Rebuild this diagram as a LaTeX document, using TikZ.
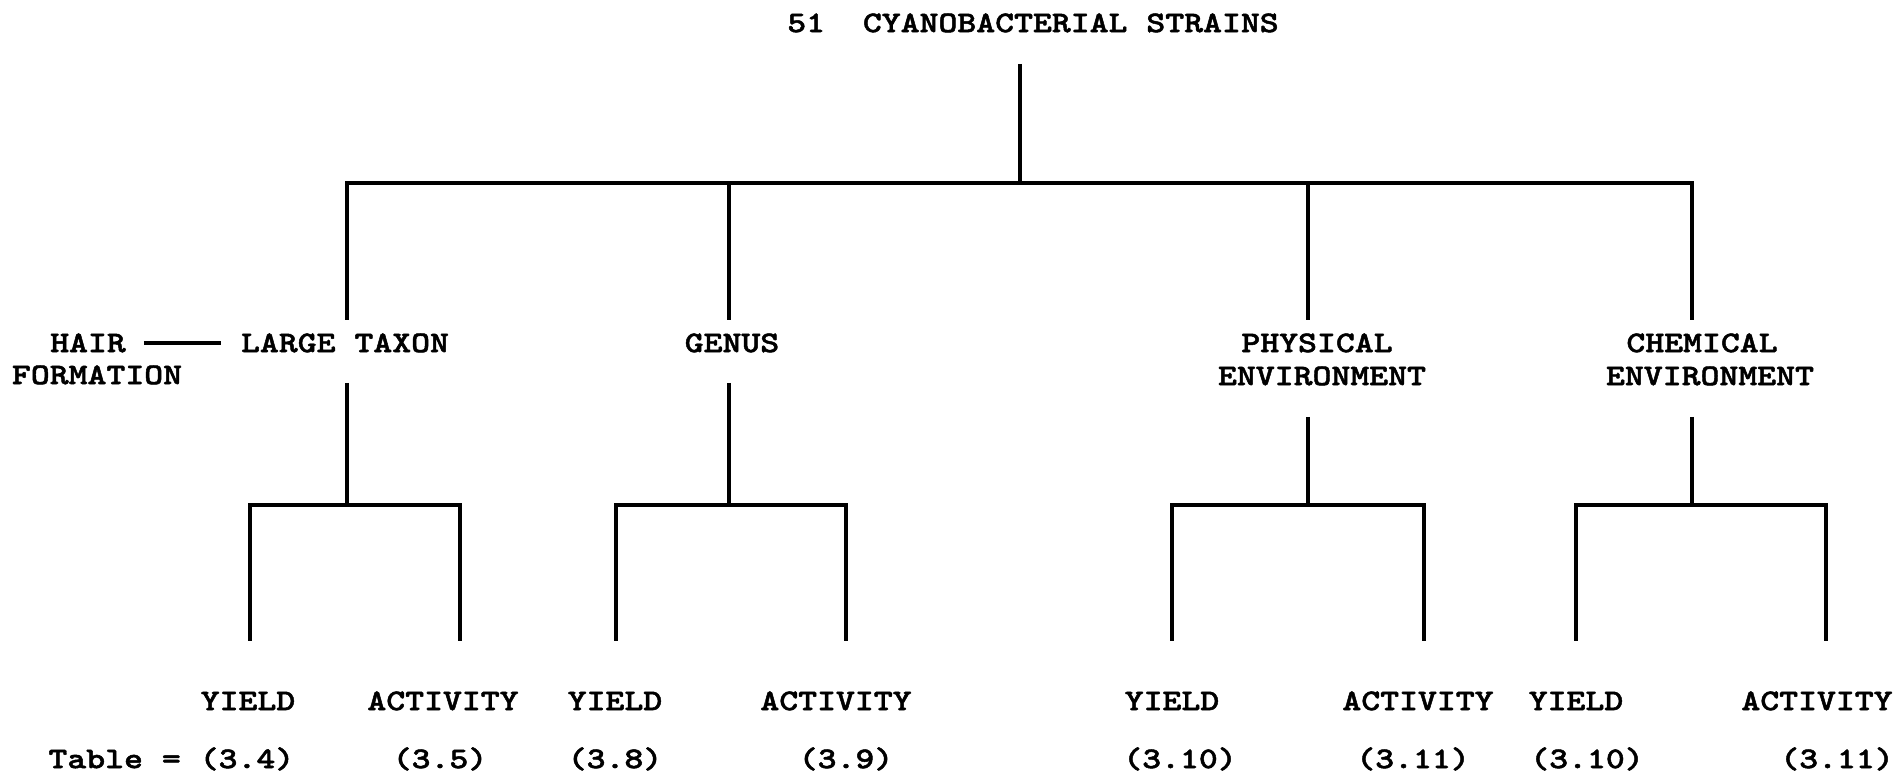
\documentclass[tikz,border=0pt]{standalone}
\usepackage{fontspec}
\newfontfamily\typefont[FakeStretch=1.2, FakeBold=1.6]{lmmonolt10-bold.otf}
\tikzset{
  lbl/.style={font=\typefont\fontsize{12}{14}\selectfont, inner sep=0pt, text height=7.3pt, text depth=0pt},
  tree/.style={line width=1.3pt}
}

\begin{document}
\begin{tikzpicture}[x=0.4pt, y=-0.4pt]
\useasboundingbox (0,0) rectangle (1895,778);
% labels
\node[lbl] (root) at (1033,23) {51~~CYANOBACTERIAL STRAINS};
\node[lbl] (hair) at (88,343) {HAIR};
\node[lbl] (formation) at (97,375) {FORMATION};
\node[lbl] (large) at (345,343) {LARGE TAXON};
\node[lbl] (genus) at (732,343) {GENUS};
\node[lbl] (phys) at (1317,343) {PHYSICAL};
\node[lbl] (physenv) at (1322,376) {ENVIRONMENT};
\node[lbl] (chem) at (1702,343) {CHEMICAL};
\node[lbl] (chemenv) at (1710,376) {ENVIRONMENT};
\node[lbl] (yield1) at (248,701) {YIELD};
\node[lbl] (act1) at (443,701) {ACTIVITY};
\node[lbl] (yield2) at (615,701) {YIELD};
\node[lbl] (act2) at (836,701) {ACTIVITY};
\node[lbl] (yield3) at (1172,701) {YIELD};
\node[lbl] (act3) at (1418,701) {ACTIVITY};
\node[lbl] (yield4) at (1576,701) {YIELD};
\node[lbl] (act4) at (1817,701) {ACTIVITY};
% table numbers
\node[lbl, anchor=west] (tab1) at (48,759) {Table = (3.4)};
\node[lbl] (tab2) at (440,759) {(3.5)};
\node[lbl] (tab3) at (615,759) {(3.8)};
\node[lbl] (tab4) at (846,759) {(3.9)};
\node[lbl] (tab5) at (1180,759) {(3.10)};
\node[lbl] (tab6) at (1413,759) {(3.11)};
\node[lbl] (tab7) at (1587,759) {(3.10)};
\node[lbl] (tab8) at (1837,759) {(3.11)};
% top level
\coordinate (root-foot) at (1020,64);
\coordinate (fork) at (1020,183);
\coordinate (large-head) at (347,320);
\coordinate (genus-head) at (729,320);
\coordinate (phys-head) at (1308,320);
\coordinate (chem-head) at (1692,320);
\draw[tree] (root-foot) -- (fork);
\draw[tree] (large-head) |- (fork) -| (chem-head);
\draw[tree] (genus-head) -- (genus-head |- fork);
\draw[tree] (phys-head) -- (phys-head |- fork);
\draw[tree, shorten <=7pt, shorten >=8pt] (hair) -- (large);
% second level
\coordinate (large-foot) at (347,383);
\coordinate (large-fork) at (347,505);
\coordinate (genus-foot) at (729,383);
\coordinate (genus-fork) at (729,505);
\coordinate (phys-foot) at (1308,417);
\coordinate (phys-fork) at (1308,505);
\coordinate (chem-foot) at (1692,417);
\coordinate (chem-fork) at (1692,505);
\coordinate (yield1-head) at (250,641);
\coordinate (act1-head) at (460,641);
\coordinate (yield2-head) at (616,641);
\coordinate (act2-head) at (846,641);
\coordinate (yield3-head) at (1172,641);
\coordinate (act3-head) at (1424,641);
\coordinate (yield4-head) at (1576,641);
\coordinate (act4-head) at (1826,641);
\draw[tree] (large-foot) -- (large-fork);
\draw[tree] (yield1-head) |- (large-fork) -| (act1-head);
\draw[tree] (genus-foot) -- (genus-fork);
\draw[tree] (yield2-head) |- (genus-fork) -| (act2-head);
\draw[tree] (phys-foot) -- (phys-fork);
\draw[tree] (yield3-head) |- (phys-fork) -| (act3-head);
\draw[tree] (chem-foot) -- (chem-fork);
\draw[tree] (yield4-head) |- (chem-fork) -| (act4-head);
\end{tikzpicture}
\end{document}
